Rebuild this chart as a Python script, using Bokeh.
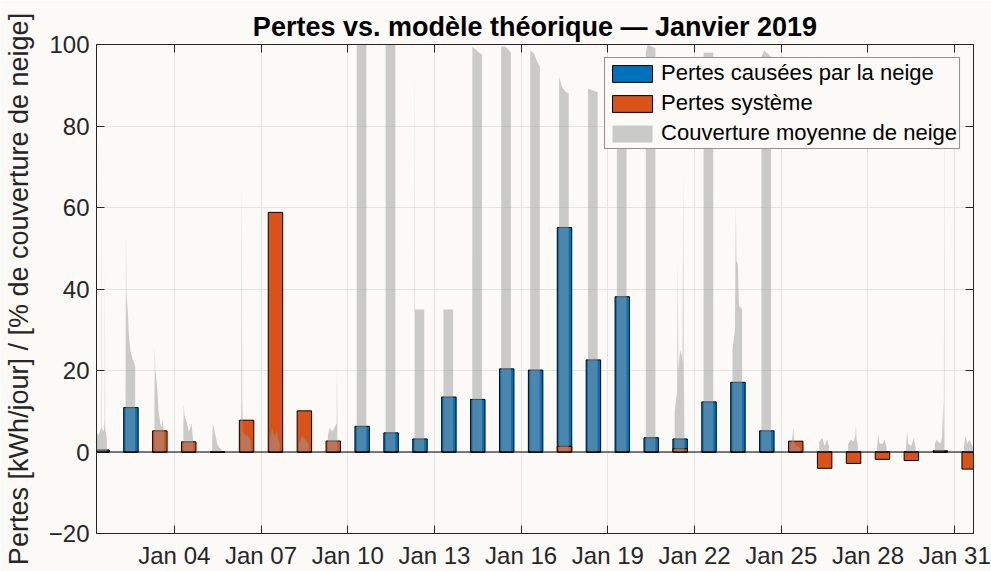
from bokeh.plotting import figure
from bokeh.models import (Range1d, FixedTicker, LinearAxis, Legend, LegendItem,
                          Span, ColumnDataSource)
from bokeh.embed import file_html
from bokeh.resources import INLINE

# ---------------- data ----------------
TITLE = "Pertes vs. modèle théorique — Janvier 2019"
Y_LABEL = "Pertes [kWh/jour] / [% de couverture de neige]"
SERIES_NAMES = ["Pertes causées par la neige", "Pertes système",
                "Couverture moyenne de neige"]

DAYS = list(range(1, 32))
SNOW_LOSS = [0.5, 10.9, 0, 0, 0, 0, 0, 0, 0, 6.3, 4.7, 3.2, 13.5, 12.9, 20.4,
             20.1, 55.1, 22.6, 38.1, 3.5, 3.2, 12.3, 17.1, 5.2, 0, 0, 0, 0, 0,
             0.3, 0]
SYSTEM_LOSS = [0, 0, 5.2, 2.5, 0, 7.8, 58.8, 10.1, 2.7, 0, 0, 0, 0, 0, 0,
               0, 1.4, 0, 0, 0, 0.8, 0, 0, 0, 2.65, -4.0, -2.8, -1.8, -2.1,
               0, -4.2]

# snow coverage (%) read during daylight hours of each day
COVER_HOURS = [
    [7.4, 9.0, 11.3, 11.5, 11.7, 13.5, 14.2, 14.4, 14.6, 16.0],
    [7.5, 7.9, 8.2, 9.5, 10.2, 11.5, 13.0, 14.5, 15.5],
    [7.5, 7.8, 8.3, 9.8, 11.0, 12.4, 13.5, 14.2, 15.5],
    [7.5, 7.9, 8.5, 10.7, 12.0, 13.5, 14.3, 15.5],
    [7.5, 8.0, 9.5, 11.6, 13.5, 15.5],
    [7.5, 8.1, 8.4, 9.0, 11.0, 13.0, 15.5],
    [7.5, 9.0, 11.0, 13.0, 15.5],
    [7.5, 10.0, 13.0, 15.5],
    [7.5, 9.0, 11.0, 13.0, 14.8, 15.1, 15.4],
    [7.5, 15.5],
    [7.5, 15.5],
    [7.5, 7.7, 7.9, 15.5],
    [7.5, 15.5],
    [7.5, 9.0, 15.5],
    [7.5, 11.0, 15.5],
    [7.5, 10.7, 13.8, 15.5],
    [7.5, 10.0, 12.5, 15.5],
    [7.5, 15.5],
    [7.5, 15.5],
    [7.5, 9.0, 15.5],
    [7.5, 9.5, 10.0, 10.5, 12.0, 13.0, 14.0, 14.5, 15.0, 15.5],
    [7.5, 15.5],
    [7.5, 9.5, 10.3, 10.7, 12.0, 12.8, 15.5],
    [7.5, 10.0, 15.5],
    [7.5, 9.0, 10.0, 11.0, 15.5],
    [7.5, 10.0, 12.0, 14.0, 15.5],
    [7.5, 10.0, 12.0, 13.5, 14.0, 14.5, 15.5],
    [7.5, 8.5, 9.5, 12.0, 14.0, 15.5],
    [7.5, 8.5, 9.5, 12.0, 14.0, 15.5],
    [7.5, 9.0, 12.0, 13.5, 14.6, 15.0, 15.3, 15.5],
    [7.5, 9.0, 10.5, 12.0, 15.6],
]
COVER_PCT = [
    [5, 4, 6, 82, 6, 5, 8, 47, 6, 3],
    [12, 56, 39, 34, 29, 25, 23, 22, 21],
    [10, 26, 20, 15.5, 10, 7, 6, 8, 5],
    [6, 11.6, 9, 7, 5, 6, 7, 3],
    [3, 7, 5, 2, 1, 0.5],
    [5, 68, 13, 5, 4, 4, 3],
    [3, 6, 4, 5, 2],
    [2, 4, 3, 2],
    [4, 6, 5, 6, 7, 22, 5],
    [100, 100],
    [100, 100],
    [35, 100, 35, 35],
    [35, 35],
    [99.5, 99, 97.5],
    [99.5, 99.5, 98],
    [98.5, 97.8, 95.4, 94.6],
    [92, 89.5, 88.5, 88],
    [89.2, 88.3],
    [93, 92],
    [98, 100, 99],
    [10, 15, 47, 20, 25, 24, 22, 68.5, 20, 8],
    [98, 98],
    [25, 30, 61, 47, 46, 36, 35],
    [97, 98.5, 97],
    [2, 3, 6, 2, 1],
    [2.5, 3.5, 1.5, 3, 1.5],
    [2, 3, 2.5, 4, 6.8, 3, 2],
    [1, 4.5, 2, 2, 3, 1],
    [1, 5, 2, 1.5, 3.5, 1],
    [2, 3, 2, 3.5, 13, 4, 100, 3],
    [1, 4, 2, 3, 1],
]

TICK_DAYS = [4, 7, 10, 13, 16, 19, 22, 25, 28, 31]
TICK_LABELS = ["Jan 04", "Jan 07", "Jan 10", "Jan 13", "Jan 16", "Jan 19",
               "Jan 22", "Jan 25", "Jan 28", "Jan 31"]
Y_TICKS = [-20, 0, 20, 40, 60, 80, 100]
X_START = (1, 7.4)     # (day, hour)
X_END = (31, 15.6)
BAR_HOUR = 12.0
BAR_WIDTH_DAYS = 0.5

# ---------------- style ----------------
BG = "#fbfaf6"
AX = "#262626"
BLUE = "#0072BD"
ORANGE = "#D95319"
GRAY = "#9a9a9a"
GRID = "#e4e4e4"
FONT = "Liberation Sans"


def to_x(day, hour):
    return (day - 1) + hour / 24.0


bar_x = [to_x(d, BAR_HOUR) for d in DAYS]
src = ColumnDataSource(dict(x=bar_x, snow=SNOW_LOSS, system=SYSTEM_LOSS))

p = figure(width=991, height=571,
           x_range=Range1d(to_x(*X_START), to_x(*X_END)),
           y_range=Range1d(-20, 100),
           output_backend="svg", toolbar_location=None,
           min_border_left=96, min_border_right=18,
           min_border_top=44, min_border_bottom=38,
           background_fill_color=BG, border_fill_color=BG,
           outline_line_color=AX, outline_line_width=1)

r_snow = p.vbar(x="x", top="snow", bottom=0, width=BAR_WIDTH_DAYS, source=src,
                fill_color=BLUE, line_color="black", line_width=1)
r_sys = p.vbar(x="x", top="system", bottom=0, width=BAR_WIDTH_DAYS, source=src,
               fill_color=ORANGE, line_color="black", line_width=1)

xs, ys = [], []
for d, hrs, vals in zip(DAYS, COVER_HOURS, COVER_PCT):
    xx = [to_x(d, h) for h in hrs]
    xs.append([xx[0]] + xx + [xx[-1]])
    ys.append([0] + list(vals) + [0])
r_cov = p.patches(xs, ys, fill_color=GRAY, fill_alpha=0.5, line_color=None)

p.add_layout(Span(location=0, dimension="width", line_color="black",
                  line_width=1))

# axes
x_ticks = [to_x(d, 0) for d in TICK_DAYS]
xaxis = p.xaxis[0]
yaxis = p.yaxis[0]
xaxis.ticker = FixedTicker(ticks=x_ticks)
xaxis.major_label_overrides = {t: lab for t, lab in zip(x_ticks, TICK_LABELS)}
yaxis.ticker = FixedTicker(ticks=Y_TICKS)
for ax in (xaxis, yaxis):
    ax.major_tick_in = 8
    ax.major_tick_out = 0
    ax.minor_tick_line_color = None
    ax.axis_line_color = AX
    ax.major_tick_line_color = AX
    ax.major_label_text_color = AX
    ax.major_label_text_font = FONT
    ax.major_label_text_font_size = "24px"
xaxis.major_label_standoff = 8
yaxis.major_label_standoff = 7
yaxis.axis_label = Y_LABEL
yaxis.axis_label_text_font = FONT
yaxis.axis_label_text_font_size = "27px"
yaxis.axis_label_text_font_style = "normal"
yaxis.axis_label_text_color = AX
yaxis.axis_label_standoff = 12

p.xgrid.ticker = FixedTicker(ticks=x_ticks)
p.ygrid.ticker = FixedTicker(ticks=Y_TICKS)
p.xgrid.grid_line_color = GRID
p.ygrid.grid_line_color = GRID

for loc, ticks in (("right", Y_TICKS), ("above", x_ticks)):
    ax = LinearAxis(ticker=FixedTicker(ticks=ticks),
                    major_label_text_font_size="0px",
                    major_label_standoff=0,
                    major_tick_in=8, major_tick_out=0,
                    minor_tick_line_color=None,
                    axis_line_color=AX, major_tick_line_color=AX)
    p.add_layout(ax, loc)

# title
p.title.text = TITLE
p.title.align = "center"
p.title.text_font = FONT
p.title.text_font_size = "27px"
p.title.text_font_style = "bold"
p.title.text_color = "#000000"
p.title.standoff = 6

legend = Legend(items=[LegendItem(label=SERIES_NAMES[0], renderers=[r_snow]),
                       LegendItem(label=SERIES_NAMES[1], renderers=[r_sys]),
                       LegendItem(label=SERIES_NAMES[2], renderers=[r_cov])],
                location="top_right", margin=13, padding=2, spacing=4,
                glyph_width=50, glyph_height=21, label_height=21,
                label_standoff=4,
                label_text_font=FONT, label_text_font_size="22px",
                label_text_color="#000000",
                border_line_color=AX, border_line_width=1,
                background_fill_color=BG, background_fill_alpha=1)
p.add_layout(legend)

open("out.html", "w").write(file_html(p, INLINE))
